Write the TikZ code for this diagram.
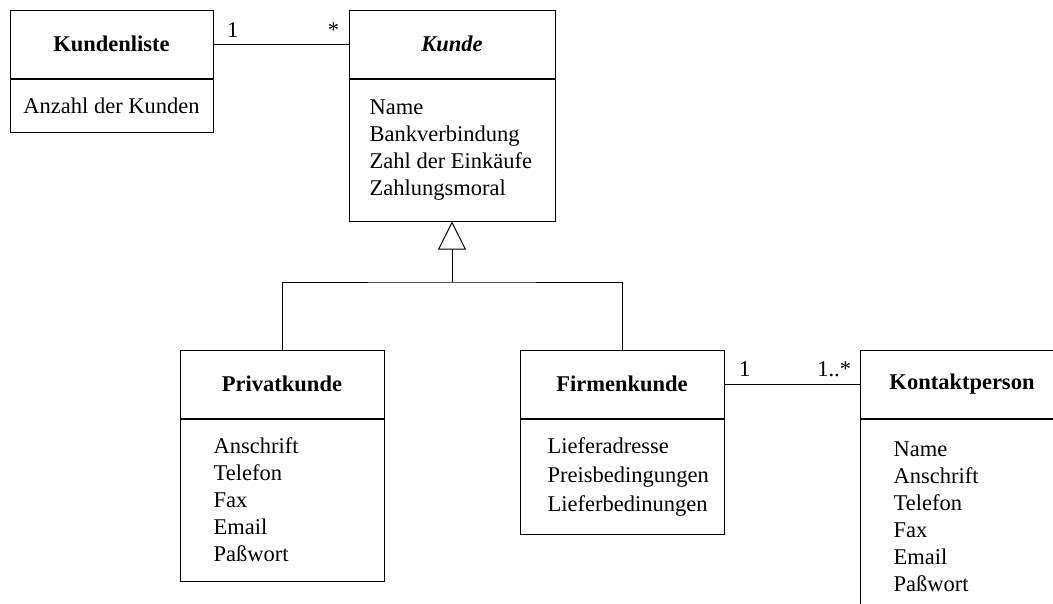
\documentclass[tikz,border=0pt]{standalone}
\usepackage{fontspec}
\setmainfont{Liberation Serif}
\usetikzlibrary{positioning,arrows.meta}

\begin{document}
\begin{tikzpicture}[
    x=1pt, y=-1pt,
    every node/.style={font=\fontsize{22.5}{27}\selectfont},
    classhead/.style={rectangle, draw, line width=1pt, minimum width=#1, minimum height=68pt, inner sep=0pt, font=\fontsize{22.5}{27}\selectfont\bfseries},
    classbody/.style={rectangle, draw, line width=1pt, minimum width=#1, inner sep=0pt},
    attrs/.style={align=left, inner sep=0pt, anchor=west},
    assoc/.style={line width=1pt},
    inherit/.style={-{Triangle[open, length=28pt, width=28pt]}, line width=1pt},
    mult/.style={inner sep=0pt}
]
\useasboundingbox (0,0) rectangle (1053,603);
\clip (0,0) rectangle (1053,603);

% Kundenliste
\node[classhead=203pt] (liste) at (111.5,44) {Kundenliste};
\node[classbody=203pt, below=0pt of liste, minimum height=53pt] (liste-body) {Anzahl der Kunden};

% Kunde (abstract)
\node[classhead=206pt] (kunde) at (452,44) {\itshape Kunde};
\node[classbody=206pt, below=0pt of kunde, minimum height=142pt] (kunde-body) {};
\node[attrs] (kunde-attr) at ([xshift=21pt]kunde-body.west) {Name\\Bankverbindung\\Zahl der Eink\"aufe\\Zahlungsmoral};

% Privatkunde
\node[classhead=204pt] (privat) at (282,384) {Privatkunde};
\node[classbody=204pt, below=0pt of privat, minimum height=162pt] (privat-body) {};
\node[attrs] (privat-attr) at ([xshift=34pt]privat-body.west) {Anschrift\\Telefon\\Fax\\Email\\Pa\ss wort};

% Firmenkunde
\node[classhead=204pt] (firmen) at (622,384) {Firmenkunde};
\node[classbody=204pt, below=0pt of firmen, minimum height=115pt] (firmen-body) {};
\node[attrs, font=\fontsize{22.5}{29}\selectfont] (firmen-attr) at ([xshift=28pt]firmen-body.west) {Lieferadresse\\Preisbedingungen\\Lieferbedinungen};

% Kontaktperson
\node[classhead=204pt] (kontakt) at (962,384) {Kontaktperson};
\node[classbody=204pt, below=0pt of kontakt, minimum height=195pt] (kontakt-body) {};
\node[attrs] (kontakt-attr) at ([xshift=34pt]kontakt-body.west) {Name\\Anschrift\\Telefon\\Fax\\Email\\Pa\ss wort};

% Associations
\draw[assoc] (liste) -- (kunde)
    node[mult, at start, anchor=base west, xshift=13pt, yshift=7pt] {1}
    node[mult, at end, anchor=base east, xshift=-9pt, yshift=7pt] {*};
\draw[assoc] (firmen) -- (kontakt)
    node[mult, at start, anchor=base west, xshift=14pt, yshift=8pt] {1}
    node[mult, at end, anchor=base east, xshift=-8pt, yshift=8pt] {1..*};

% Generalization
\coordinate (gen) at (452,282);
\draw[inherit] (gen) -- (kunde-body.south);
\draw[assoc] (privat.north) |- (gen) -| (firmen.north);

\end{tikzpicture}
\end{document}
